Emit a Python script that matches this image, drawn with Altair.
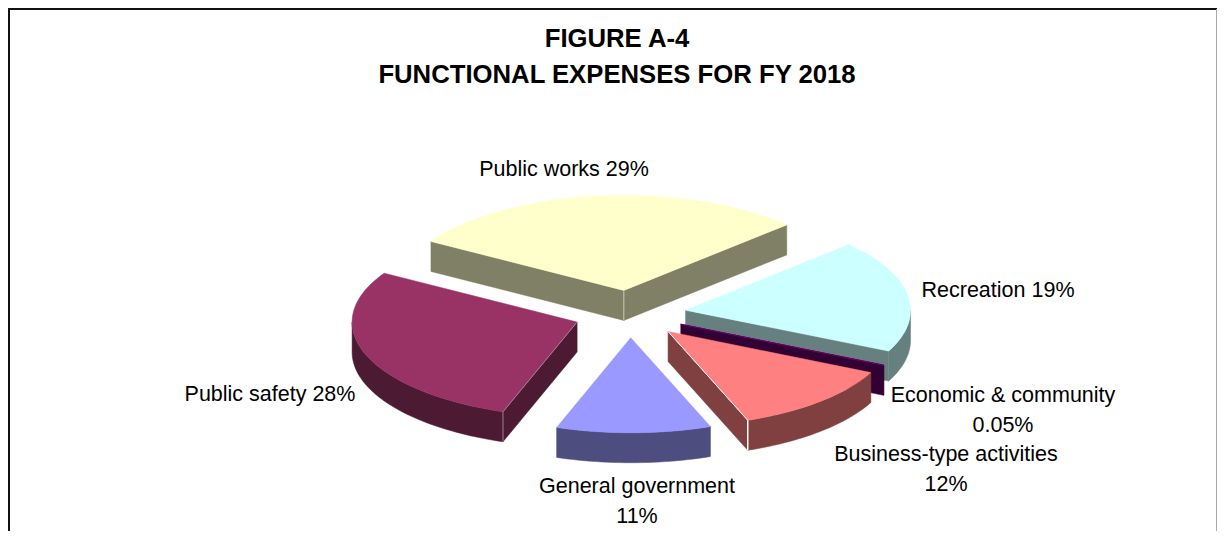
import math
import altair as alt
import pandas as pd

# ---- chart values ----
categories = ["Public works", "Recreation", "Economic & community",
              "Business-type activities", "General government", "Public safety"]
shares = [29, 19, 0.05, 12, 11, 28]
top_colors = ["#FFFFCC", "#CCFFFF", "#660066", "#FF8080", "#9999FF", "#993366"]
side_colors = ["#808066", "#668080", "#330033", "#804040", "#4D4D80", "#4D1A33"]
edge_colors = ["#C8C8A8", "#A0C0C0", "#660066", "#FFFFFF", "#8080B0", "#A08098"]
paint_order = [0, 1, 2, 3, 5, 4]

title_lines = ["FIGURE A-4", "FUNCTIONAL EXPENSES FOR FY 2018"]
label_lines = ["Public works 29%", "Recreation 19%", "Economic & community", "0.05%",
               "Business-type activities", "12%", "General government", "11%", "Public safety 28%"]
label_x = [564, 998, 1003, 1003, 946, 946, 637, 637, 270]
label_y = [170, 291, 396, 426, 455, 485, 487, 517, 395]
title_x = [617, 617]
title_y = [39, 75]

# ---- pie projection settings ----
CX, CY, RX, RY, DEPTH, EXPLODE, START = 630, 314, 225, 95, 30, 0.25, -59
W, H = 1209, 523


def rim(cx, cy, a0, a1):
    n = max(2, int(abs(a1 - a0) / 1.5) + 2)
    out = []
    for i in range(n):
        a = math.radians(a0 + (a1 - a0) * i / (n - 1))
        out.append((cx + RX * math.sin(a), cy - RY * math.cos(a)))
    return out


rows = []
total = sum(shares)
angle = START
geom = []
for s in shares:
    sweep = 360 * s / total
    geom.append((angle, angle + sweep))
    angle += sweep

seq = 0


def add_poly(pts, name, color, stroke, sw, close=True):
    global seq
    if close:
        pts = pts + [pts[0]]
    for j, (x, y) in enumerate(pts):
        rows.append(dict(x=x, y=y, piece=f"p{seq:03d}", o=j, fill=color, stroke=stroke, sw=sw, name=name))
    seq += 1


for i in paint_order:
    a0, a1 = geom[i]
    mid = math.radians((a0 + a1) / 2)
    ax = CX + EXPLODE * RX * math.sin(mid)
    ay = CY - EXPLODE * RY * math.cos(mid)
    arc = rim(ax, ay, a0, a1)
    dark = side_colors[i]
    name = categories[i]
    # cut faces turned towards the viewer
    if math.sin(math.radians(a0)) < 0:
        p = arc[0]
        add_poly([(ax, ay), p, (p[0], p[1] + DEPTH), (ax, ay + DEPTH)], name, dark, dark, 0.5)
    if math.sin(math.radians(a1)) > 0:
        p = arc[-1]
        add_poly([(ax, ay), p, (p[0], p[1] + DEPTH), (ax, ay + DEPTH)], name, dark, dark, 0.5)
    # outer wall: only the part of the rim on the near side
    lo, hi = max(a0, 90), min(a1, 270)
    if hi > lo:
        near = rim(ax, ay, lo, hi)
        add_poly(near + [(x, y + DEPTH) for x, y in reversed(near)], name, dark, dark, 0.5)
    # top
    add_poly([(ax, ay)] + arc, name, top_colors[i], top_colors[i], 1 if shares[i] < 1 else 0.5)
    # light edges
    if i == 0:
        add_poly([(ax, ay), (ax, ay + DEPTH)], name, "none", edge_colors[i], 1, close=False)
    if i == 3:
        corner = arc[-1]
        add_poly([(ax, ay), corner], name, "none", edge_colors[i], 1, close=False)
        add_poly([corner, (corner[0], corner[1] + DEPTH)], name, "none", edge_colors[i], 1.5, close=False)
    if i == 5:
        corner = arc[0]
        add_poly([(ax, ay), corner], name, "none", edge_colors[i], 1, close=False)
        add_poly([corner, (corner[0], corner[1] + DEPTH)], name, "none", edge_colors[i], 1, close=False)

df = pd.DataFrame(rows)
xs = alt.Scale(domain=[8, 8 + W], range=[0, W])
ys = alt.Scale(domain=[8, 8 + H], range=[0, H])
X = alt.X("x:Q", scale=xs, axis=None)
Y = alt.Y("y:Q", scale=ys, axis=None)

slices = alt.Chart(df).mark_line(interpolate="linear").encode(
    x=X, y=Y,
    detail="piece:N",
    order="o:Q",
    fill=alt.Fill("fill:N", scale=None),
    stroke=alt.Stroke("stroke:N", scale=None),
    strokeWidth=alt.StrokeWidth("sw:Q", scale=None),
)

frame_df = pd.DataFrame([
    dict(x=8, y=9, k="top", o=0), dict(x=1217, y=9, k="top", o=1),
    dict(x=9, y=8, k="left", o=0), dict(x=9, y=531, k="left", o=1),
])
frame_layer = alt.Chart(frame_df).mark_line(color="#111111", strokeWidth=2).encode(x=X, y=Y, detail="k:N", order="o:Q")
right_df = pd.DataFrame([dict(x=1216.5, y=9, o=0), dict(x=1216.5, y=531, o=1)])
right_layer = alt.Chart(right_df).mark_line(color="#AAAAAA", strokeWidth=1).encode(x=X, y=Y, order="o:Q")

labels = alt.Chart(pd.DataFrame({"x": label_x, "y": label_y, "t": label_lines})).mark_text(
    font="Liberation Sans", fontSize=21.5, color="#000000", align="center", baseline="middle"
).encode(x=X, y=Y, text="t:N")
titles = alt.Chart(pd.DataFrame({"x": title_x, "y": title_y, "t": title_lines})).mark_text(
    font="Liberation Sans", fontSize=25.7, fontWeight="bold", color="#000000", align="center", baseline="middle"
).encode(x=X, y=Y, text="t:N")

chart = alt.layer(frame_layer, right_layer, slices, labels, titles).properties(
    width=W, height=H, padding=0, autosize=alt.AutoSizeParams(type="none"), background="white"
).configure_view(stroke=None)

chart.save("out.html", embed_options={"renderer": "svg", "actions": False})
